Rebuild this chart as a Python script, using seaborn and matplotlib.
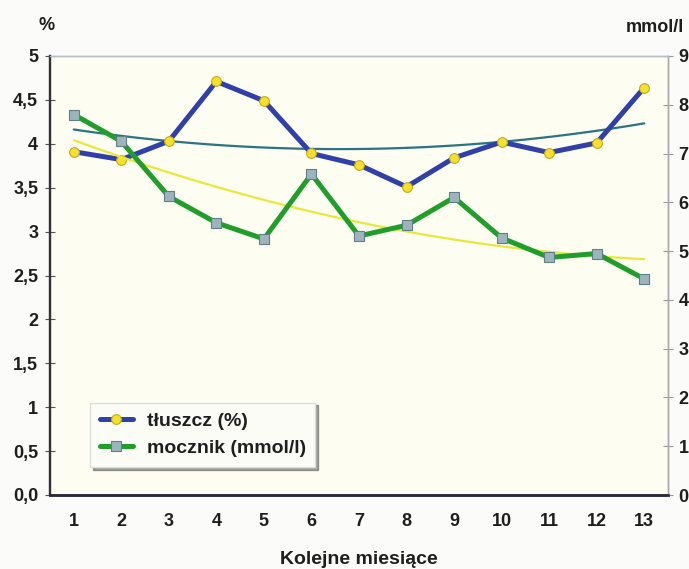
import numpy as np
import matplotlib
matplotlib.use("Agg")
import matplotlib.pyplot as plt
import seaborn as sns

# Data
months = np.arange(1, 14)
fat = [3.91, 3.82, 4.03, 4.71, 4.49, 3.89, 3.76, 3.51, 3.84, 4.02, 3.90, 4.01, 4.64]
urea = [7.80, 7.25, 6.12, 5.58, 5.25, 6.58, 5.31, 5.53, 6.10, 5.27, 4.87, 4.95, 4.43]
fat_ticks = [0, 0.5, 1, 1.5, 2, 2.5, 3, 3.5, 4, 4.5, 5]
fat_tick_labels = ["0,0", "0,5", "1", "1,5", "2", "2,5", "3", "3,5", "4", "4,5", "5"]
urea_ticks = list(range(0, 10))

sns.set_style("white")
plt.rcParams["font.family"] = ["Liberation Sans", "DejaVu Sans"]
plt.rcParams["font.weight"] = "bold"
plt.rcParams["axes.labelweight"] = "bold"

txt = "#1e1e1e"
blue = "#3040aa"
green = "#1f9f2a"
teal = "#2a7484"
yellow = "#e9e83a"
fs = 13

fig = plt.figure(figsize=(6.89, 5.69), dpi=100, facecolor="#fbfbf9")
ax = fig.add_axes([50 / 689, 74 / 569, 618 / 689, 439 / 569])
ax.set_facecolor("#fdfdf1")
ax2 = ax.twinx()

# fat series + quadratic trend
sns.regplot(x=months, y=fat, order=2, ci=None, scatter=False, ax=ax,
            line_kws=dict(color=teal, lw=1.6, zorder=2))
sns.lineplot(x=months, y=fat, ax=ax, color=blue, lw=3.6, marker="o",
             markersize=7, markerfacecolor="#f4e12a", markeredgecolor="#c9a81c",
             markeredgewidth=0.8, label="tłuszcz (%)", zorder=4, legend=False)

# urea series + quadratic trend
sns.regplot(x=months, y=urea, order=2, ci=None, scatter=False, ax=ax2,
            line_kws=dict(color=yellow, lw=1.6, zorder=2))
sns.lineplot(x=months, y=urea, ax=ax2, color=green, lw=3.6, marker="s",
             markersize=6.5, markerfacecolor="#9db4bc", markeredgecolor="#5f7f88",
             markeredgewidth=0.8, label="mocznik (mmol/l)", zorder=3, legend=False)

ax.set_xlim(0.5, 13.5)
ax.set_ylim(0, 5)
ax2.set_ylim(0, 9)

ax.set_xticks(months)
ax.set_xticklabels([str(m) for m in months], fontsize=fs, color=txt)
ax.set_xticks(np.arange(1.5, 13, 1), minor=True)
ax.tick_params(axis="x", which="major", length=0, pad=13)
ax.tick_params(axis="x", which="minor", length=7, direction="inout", color="#555555")
ax.set_yticks(fat_ticks)
ax.set_yticklabels(fat_tick_labels, fontsize=fs, color=txt)
ax.tick_params(axis="y", length=7, direction="inout", color="#555555", pad=5, left=True)

ax2.set_yticks(urea_ticks)
ax2.set_yticklabels([str(t) for t in urea_ticks], fontsize=fs, color=txt)
ax2.tick_params(axis="y", length=7, direction="inout", color="#999999", pad=4, right=True)

ax.set_xlabel("Kolejne miesiące", fontsize=fs + 1, color=txt, labelpad=15)
ax.set_ylabel("")
ax2.set_ylabel("")

for a in (ax, ax2):
    a.spines["left"].set_color("#333333")
    a.spines["left"].set_linewidth(1.6)
    a.spines["bottom"].set_color("#2a2a3a")
    a.spines["bottom"].set_linewidth(1.8)
    a.spines["top"].set_color("#b8bcc8")
    a.spines["top"].set_linewidth(1.0)
    a.spines["right"].set_color("#aaaaaa")
    a.spines["right"].set_linewidth(1.0)

fig.text(47 / 689, 1 - 25 / 569, "%", fontsize=13, color=txt, ha="center", va="center")
fig.text(655 / 689, 1 - 27 / 569, "mmol/l", fontsize=fs, color=txt, ha="center", va="center")

h1, l1 = ax.get_legend_handles_labels()
h2, l2 = ax2.get_legend_handles_labels()
leg = ax2.legend(h1 + h2, l1 + l2, loc="lower left", bbox_to_anchor=(0.065, 0.064),
                 borderaxespad=0, fontsize=fs + 1, frameon=True, fancybox=False,
                 shadow=True, handlelength=1.7, handletextpad=0.7, borderpad=0.5,
                 labelspacing=0.5)
leg.get_frame().set_facecolor("#fcfcf7")
leg.get_frame().set_edgecolor("#dddddd")
for t in leg.get_texts():
    t.set_color(txt)

fig.savefig("out.png", dpi=100, facecolor=fig.get_facecolor())
